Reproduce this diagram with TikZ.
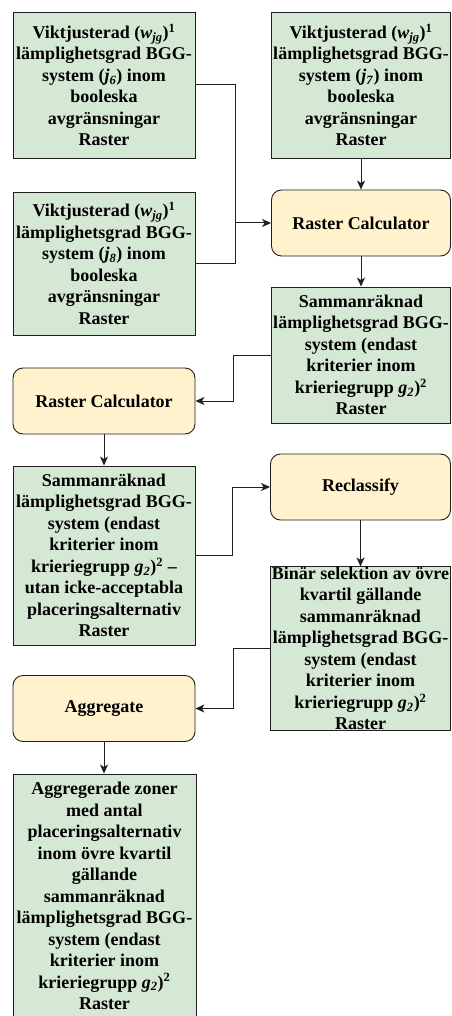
\documentclass[tikz,border=0pt]{standalone}
\usepackage{fontspec}
\setmainfont{Liberation Serif}
\usetikzlibrary{arrows.meta}
\definecolor{datafill}{HTML}{D5E8D4}
\definecolor{toolfill}{HTML}{FFF2CC}
\definecolor{linecol}{HTML}{1F1F1F}
\newcommand{\sub}[2]{\textit{#1}\textsubscript{\textit{#2}}}
\begin{document}
\begin{tikzpicture}[x=1pt,y=-1pt,
  databox/.style={rectangle, draw=linecol, fill=datafill, line width=0.9pt,
    align=center, inner sep=0pt, minimum width=#1pt,
    font=\bfseries\fontsize{18}{21.5}\selectfont},
  toolbox/.style={rectangle, rounded corners=10pt, draw=linecol, fill=toolfill,
    line width=0.9pt, align=center, inner sep=0pt, minimum height=66pt,
    minimum width=#1pt, font=\bfseries\fontsize{18}{21.5}\selectfont},
  flow/.style={draw=linecol, line width=1pt, -{Stealth[length=9pt,width=8pt,inset=2.5pt]}},
  link/.style={draw=linecol, line width=1pt}]
\useasboundingbox (0,0) rectangle (451,1016);
\clip (0,0) rectangle (451,1016);

% input rasters
\node[databox=182, minimum height=146pt] (A) at (104,85)
  {Viktjusterad (\sub{w}{jg})\textsuperscript{1}\\lämplighetsgrad BGG-\\system (\sub{j}{6}) inom\\booleska\\avgränsningar\\Raster};
\node[databox=179, minimum height=146pt] (B) at (361,85)
  {Viktjusterad (\sub{w}{jg})\textsuperscript{1}\\lämplighetsgrad BGG-\\system (\sub{j}{7}) inom\\booleska\\avgränsningar\\Raster};
\node[databox=182, minimum height=143pt] (C) at (104,263.5)
  {Viktjusterad (\sub{w}{jg})\textsuperscript{1}\\lämplighetsgrad BGG-\\system (\sub{j}{8}) inom\\booleska\\avgränsningar\\Raster};

% processing chain
\node[toolbox=179] (RC1) at (361,223) {Raster Calculator};
\node[databox=179, minimum height=136pt] (D) at (361,355)
  {Sammanräknad\\lämplighetsgrad BGG-\\system (endast\\kriterier inom\\krieriegrupp \sub{g}{2})\textsuperscript{2}\\Raster};
\node[toolbox=182] (RC2) at (104,401) {Raster Calculator};
\node[databox=182, minimum height=179pt] (E) at (104,555.5)
  {Sammanräknad\\lämplighetsgrad BGG-\\system (endast\\kriterier inom\\krieriegrupp \sub{g}{2})\textsuperscript{2} –\\utan icke-acceptabla\\placeringsalternativ\\Raster};
\node[toolbox=180] (REC) at (360.5,487) {Reclassify};
\node[databox=180, minimum height=163pt] (F) at (360.5,648.5)
  {Binär selektion av övre\\kvartil gällande\\sammanräknad\\lämplighetsgrad BGG-\\system (endast\\kriterier inom\\krieriegrupp \sub{g}{2})\textsuperscript{2}\\Raster};
\node[toolbox=182] (AGG) at (104,708.5) {Aggregate};
\node[databox=183, minimum height=244pt] (G) at (104.5,896)
  {Aggregerade zoner\\med antal\\placeringsalternativ\\inom övre kvartil\\gällande\\sammanräknad\\lämplighetsgrad BGG-\\system (endast\\kriterier inom\\krieriegrupp \sub{g}{2})\textsuperscript{2}\\Raster};

% connectors
\coordinate (J1) at (235,223);
\draw[link] (A.east) -| (J1);
\draw[link] (C.east) -| (J1);
\draw[flow] (J1) -- (RC1.west);
\draw[flow] (B.south) -- (RC1.north);
\draw[flow] (RC1.south) -- (D.north);
\draw[flow] (D.west) -- ++(-38,0) |- (RC2.east);
\draw[flow] (RC2.south) -- (E.north);
\draw[flow] (E.east) -- ++(37,0) |- (REC.west);
\draw[flow] (REC.south) -- (F.north);
\draw[flow] (F.west) -- ++(-37,0) |- (AGG.east);
\draw[flow] (AGG.south) -- (AGG.south |- G.north);
\end{tikzpicture}
\end{document}
